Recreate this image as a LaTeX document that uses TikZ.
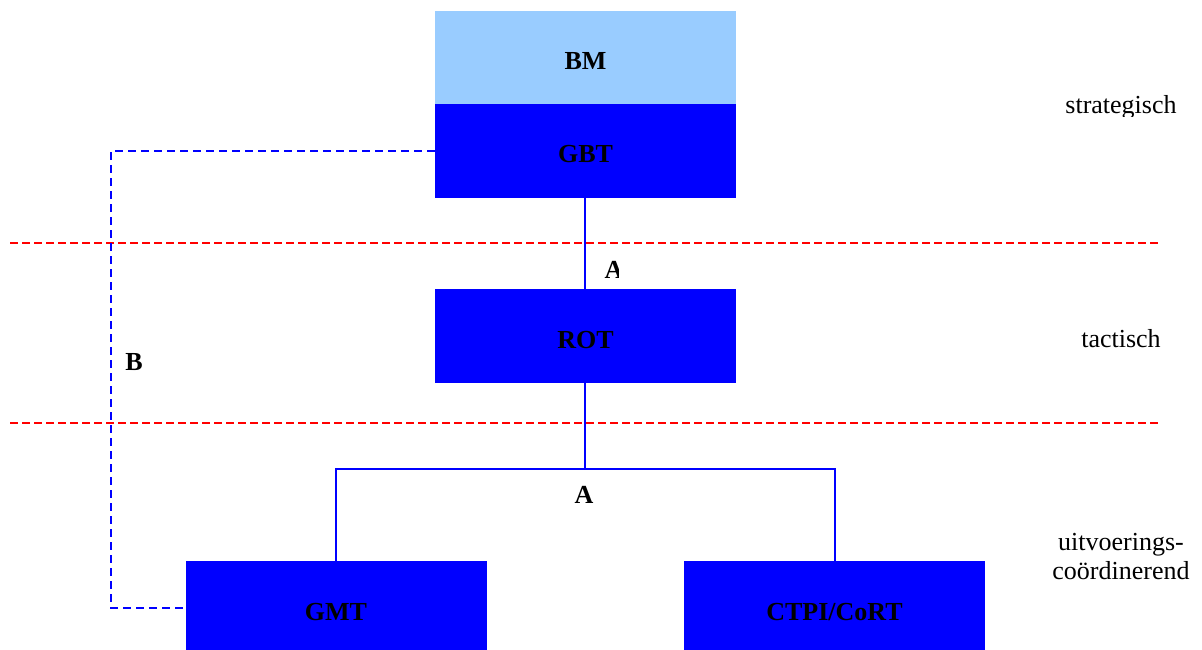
\documentclass[tikz,border=0pt]{standalone}
\usepackage{fontspec}
\setmainfont{Liberation Serif}
\definecolor{lightbox}{HTML}{99CCFF}
\definecolor{darkbox}{HTML}{0000FF}
\definecolor{levelred}{HTML}{FF0000}
\begin{document}
\begin{tikzpicture}[x=1pt,y=-1pt,
  box/.style={rectangle, fill=darkbox, minimum width=301pt, minimum height=94pt,
    inner sep=0pt, text height=24pt, text depth=0pt,
    font=\fontsize{26}{30}\selectfont\bfseries, text=black},
  toplight/.style={box, fill=lightbox, minimum height=93pt},
  link/.style={darkbox, line width=1.6pt},
  backlink/.style={darkbox, line width=1.6pt, dash pattern=on 8pt off 5pt},
  levelline/.style={levelred, line width=1.6pt, dash pattern=on 8pt off 4pt},
  levellabel/.style={font=\fontsize{26}{29}\selectfont, align=center},
  linklabel/.style={font=\fontsize{26}{30}\selectfont\bfseries, inner sep=0pt}]
\clip (0,0) rectangle (1202,650);
\fill[white] (0,0) rectangle (1202,650);

% level boundaries
\draw[levelline] (10,243) -- (1160,243);
\draw[levelline] (10,423) -- (1160,423);

% boxes
\node[toplight] (bm)   at (585.5,57.5) {BM};
\node[box]      (gbt)  at (585.5,151)  {GBT};
\node[box]      (rot)  at (585.5,336)  {ROT};
\node[box]      (gmt)  at (336,608)    {GMT};
\node[box]      (ctpi) at (834.5,608)  {CTPI/CoRT};

% hierarchy lines, kept on whole pixel columns
\coordinate (bus) at (585,469);
\draw[link] ([xshift=-0.5pt]gbt.south) -- ([xshift=-0.5pt]rot.north);
\draw[link] ([xshift=-0.5pt]rot.south) -- (bus);
\draw[link] (gmt.north) |- (bus) -| ([xshift=0.5pt]ctpi.north);

% direct line GBT - GMT
\coordinate (side) at (111,0);
\draw[backlink] (gbt.west) -- (gbt.west -| side) |- (gmt.west);

% line labels
\begin{scope}
  \clip (590,250) rectangle (618,285);
  \node[linklabel] (la1) at (614,270) {A};
\end{scope}
\node[linklabel] (la2) at (584,495) {A};
\node[linklabel] (lb)  at (134,362) {B};

% level names
\begin{scope}
  \clip (1040,85) rectangle (1200,117);
  \node[levellabel] (strat) at (1121,107) {strategisch};
\end{scope}
\node[levellabel] (tact) at (1121,339) {tactisch};
\node[levellabel] (uitv) at (1121,557) {uitvoerings-\\coördinerend};
\end{tikzpicture}
\end{document}
